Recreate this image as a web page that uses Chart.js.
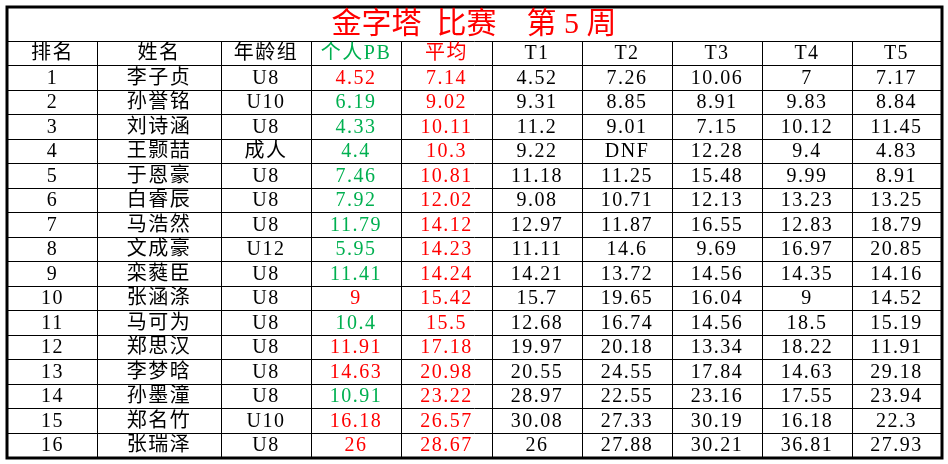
<!DOCTYPE html>
<html><head><meta charset="utf-8">
<script src="https://cdn.jsdelivr.net/npm/chart.js@4/dist/chart.umd.min.js"></script>
<style>html,body{margin:0;background:#fff}#wrap{width:948px;height:464px}</style>
</head><body><div id="wrap"><canvas id="c"></canvas></div>
<script>
const titulo = "金字塔  比赛    第 5 周";
const columnas = ["排名", "姓名", "年龄组", "个人PB", "平均", "T1", "T2", "T3", "T4", "T5"];
const nombres = ["李子贞","孙誉铭","刘诗涵","王颢喆","于恩豪","白睿辰","马浩然","文成豪","栾蕤臣","张涵涤","马可为","郑思汉","李梦晗","孙墨潼","郑名竹","张瑞泽"];
const grupos = ["U8","U10","U8","成人","U8","U8","U8","U12","U8","U8","U8","U8","U8","U8","U10","U8"];
const pb = ["4.52","6.19","4.33","4.4","7.46","7.92","11.79","5.95","11.41","9","10.4","11.91","14.63","10.91","16.18","26"];
const pbNuevo = [false,true,true,true,true,true,true,true,true,false,true,false,false,true,false,false];
const promedio = ["7.14","9.02","10.11","10.3","10.81","12.02","14.12","14.23","14.24","15.42","15.5","17.18","20.98","23.22","26.57","28.67"];
const t1 = ["4.52","9.31","11.2","9.22","11.18","9.08","12.97","11.11","14.21","15.7","12.68","19.97","20.55","28.97","30.08","26"];
const t2 = ["7.26","8.85","9.01","DNF","11.25","10.71","11.87","14.6","13.72","19.65","16.74","20.18","24.55","22.55","27.33","27.88"];
const t3 = ["10.06","8.91","7.15","12.28","15.48","12.13","16.55","9.69","14.56","16.04","14.56","13.34","17.84","23.16","30.19","30.21"];
const t4 = ["7","9.83","10.12","9.4","9.99","13.23","12.83","16.97","14.35","9","18.5","18.22","14.63","17.55","16.18","36.81"];
const t5 = ["7.17","8.84","11.45","4.83","8.91","13.25","18.79","20.85","14.16","14.52","15.19","11.91","29.18","23.94","22.3","27.93"];
const bordes = [0, 89, 213, 303, 393, 484, 574, 664, 754, 844, 933];

const ROJO = "#ff0000", VERDE = "#00b050";
const filas = nombres.map((n, i) => [String(i + 1), n, grupos[i], pb[i], promedio[i], t1[i], t2[i], t3[i], t4[i], t5[i]]);

const tablaPlugin = {
  id: "tabla",
  afterDraw(chart) {
    const c = chart.ctx, x = chart.scales.x, y = chart.scales.y;
    const px = v => x.getPixelForValue(v), py = v => y.getPixelForValue(v);
    const nf = filas.length + 1;
    c.save();
    c.strokeStyle = "#000";
    c.lineWidth = 1;
    // líneas horizontales
    for (let r = 0; r <= nf; r++) {
      c.beginPath(); c.moveTo(px(0), Math.round(py(r)) + 0.5); c.lineTo(px(933), Math.round(py(r)) + 0.5); c.stroke();
    }
    for (let k = 1; k < bordes.length - 1; k++) {
      const xx = Math.round(px(bordes[k])) + 0.5;
      c.beginPath(); c.moveTo(xx, py(0)); c.lineTo(xx, py(nf)); c.stroke();
    }
    // borde exterior grueso
    c.lineWidth = 3;
    const top = py(0) - 34;
    c.strokeRect(px(0) - 1, top, px(933) - px(0) + 2, py(nf) - top + 1);
    // título
    c.textAlign = "center"; c.textBaseline = "middle";
    c.fillStyle = ROJO;
    c.font = "30px 'Liberation Serif','Noto Sans CJK SC'";
    c.fillText(titulo, px(466), top + 18);
    c.font = "20px 'Liberation Serif','Noto Sans CJK SC'";
    c.letterSpacing = "1.5px";
    const celda = (txt, col, r, color) => {
      c.fillStyle = color;
      c.fillText(txt, (px(bordes[col]) + px(bordes[col + 1])) / 2, py(r + 0.5) + 1);
    };
    columnas.forEach((t, k) => celda(t, k, 0, k === 3 ? VERDE : k === 4 ? ROJO : "#000"));
    filas.forEach((f, i) => f.forEach((t, k) => {
      let col = "#000";
      if (k === 3) col = pbNuevo[i] ? VERDE : ROJO;
      if (k === 4) col = ROJO;
      celda(t, k, i + 1, col);
    }));
    c.restore();
  }
};

new Chart(document.getElementById("c"), {
  type: "scatter",
  data: { datasets: [{ data: [], pointRadius: 0 }] },
  options: {
    responsive: true, maintainAspectRatio: false, animation: false,
    layout: { padding: { left: 8, right: 7, top: 41, bottom: 7 } },
    plugins: { legend: { display: false }, tooltip: { enabled: false } },
    scales: {
      x: { type: "linear", min: 0, max: 933, display: false },
      y: { type: "linear", min: 0, max: filas.length + 1, reverse: true, display: false }
    }
  },
  plugins: [tablaPlugin]
});
</script></body></html>
